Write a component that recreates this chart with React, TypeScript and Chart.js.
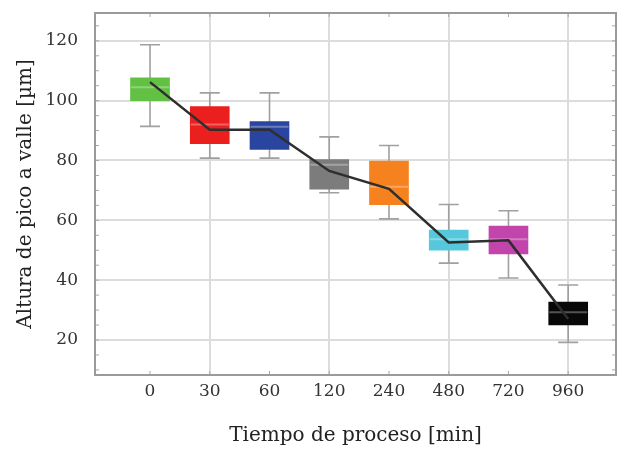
import React, { useEffect, useRef } from "react";
import { Chart, registerables } from "chart.js";

Chart.register(...registerables);

const categories = ["0", "30", "60", "120", "240", "480", "720", "960"];
const q1 = [100, 85.6, 83.7, 70.4, 65.2, 50, 48.8, 25];
const q3 = [107.6, 98, 93, 80.3, 79.8, 56.7, 58.1, 32.7];
const medians = [104.5, 92, 91.3, 78.6, 71.2, 53.7, 53.7, 29.3];
const whiskerLow = [91.4, 80.8, 80.8, 69.2, 60.5, 45.7, 40.7, 19.2];
const whiskerHigh = [118.7, 102.6, 102.6, 87.9, 85, 65.3, 63.2, 38.4];
const means = [106.2, 90.3, 90.3, 76.5, 70.5, 52.6, 53.3, 27];
const boxColors = ["#62c043", "#ec1f1f", "#2a459f", "#7c7c7c", "#f5821f", "#55c8dc", "#c145ab", "#080808"];
const yTicks = [20, 40, 60, 80, 100, 120];

const FONT = "DejaVu Serif";

const boxPlugin = {
  id: "boxExtras",
  beforeDatasetsDraw(chart: any) {
    const ctx = chart.ctx;
    const xs = chart.scales.x;
    const ys = chart.scales.y;
    ctx.save();
    ctx.strokeStyle = "#a0a0a0";
    ctx.lineWidth = 1.6;
    for (let i = 0; i < categories.length; i++) {
      const x = xs.getPixelForValue(i);
      const yl = ys.getPixelForValue(whiskerLow[i]);
      const yh = ys.getPixelForValue(whiskerHigh[i]);
      ctx.beginPath();
      ctx.moveTo(x, yl);
      ctx.lineTo(x, yh);
      ctx.moveTo(x - 10, yl);
      ctx.lineTo(x + 10, yl);
      ctx.moveTo(x - 10, yh);
      ctx.lineTo(x + 10, yh);
      ctx.stroke();
    }
    ctx.restore();
  },
  afterDatasetDraw(chart: any, args: any) {
    if (args.index !== 0) return;
    const ctx = chart.ctx;
    const xs = chart.scales.x;
    const ys = chart.scales.y;
    ctx.save();
    ctx.strokeStyle = "rgba(255,255,255,0.3)";
    ctx.lineWidth = 2;
    for (let i = 0; i < categories.length; i++) {
      const x = xs.getPixelForValue(i);
      const y = ys.getPixelForValue(medians[i]);
      ctx.beginPath();
      ctx.moveTo(x - 19, y);
      ctx.lineTo(x + 19, y);
      ctx.stroke();
    }
    ctx.restore();
  },
  afterDraw(chart: any) {
    const ctx = chart.ctx;
    const a = chart.chartArea;
    const xs = chart.scales.x;
    const ys = chart.scales.y;
    ctx.save();
    ctx.strokeStyle = "#a8a8a8";
    ctx.lineWidth = 1;
    for (let v = 10; v < 129; v += 5) {
      const y = ys.getPixelForValue(v);
      ctx.beginPath();
      ctx.moveTo(a.left, y);
      ctx.lineTo(a.left + 4, y);
      ctx.moveTo(a.right, y);
      ctx.lineTo(a.right - 4, y);
      ctx.stroke();
    }
    for (let i = 0; i < categories.length; i++) {
      const x = xs.getPixelForValue(i);
      ctx.beginPath();
      ctx.moveTo(x, a.top);
      ctx.lineTo(x, a.top + 4);
      ctx.moveTo(x, a.bottom);
      ctx.lineTo(x, a.bottom - 4);
      ctx.stroke();
    }
    ctx.strokeStyle = "#9a9a9a";
    ctx.lineWidth = 2;
    ctx.strokeRect(a.left, a.top, a.right - a.left, a.bottom - a.top);
    ctx.restore();
  },
};

export default function App() {
  const ref = useRef<HTMLCanvasElement>(null);
  useEffect(() => {
    if (!ref.current) return;
    const chart = new Chart(ref.current, {
      type: "bar",
      data: {
        datasets: [
          {
            type: "bar",
            data: categories.map((_, i) => ({ x: i, y: [q1[i], q3[i]] })) as any,
            backgroundColor: boxColors,
            borderWidth: 0,
            barThickness: 39,
            order: 2,
          },
          {
            type: "line",
            data: categories.map((_, i) => ({ x: i, y: means[i] })) as any,
            borderColor: "#2e2e2e",
            borderWidth: 2.5,
            pointRadius: 0,
            order: 1,
          } as any,
        ],
      },
      options: {
        animation: false,
        responsive: false,
        layout: { padding: { top: 13, right: 2, left: 0, bottom: 0 } },
        plugins: { legend: { display: false }, tooltip: { enabled: false } },
        scales: {
          x: {
            type: "linear",
            min: -0.921,
            max: 7.8,
            offset: false,
            afterFit: (s: any) => {
              s.height = 79;
              s.paddingLeft = 0;
              s.paddingRight = 0;
            },
            ticks: {
              stepSize: 1,
              includeBounds: false,
              padding: 6,
              color: "#333",
              font: { family: FONT, size: 17 },
              callback: (v: any) => categories[v] ?? "",
            },
            grid: {
              offset: false,
              drawTicks: false,
              lineWidth: 2,
              color: (c: any) => (c.tick && c.tick.value % 2 === 1 ? "#dcdcdc" : "rgba(0,0,0,0)"),
            },
            border: { display: false },
            title: {
              display: true,
              text: "Tiempo de proceso [min]",
              color: "#222",
              font: { family: FONT, size: 20 },
              padding: { top: 0, bottom: 6 },
            },
          },
          y: {
            type: "linear",
            min: 8.3,
            max: 129.3,
            afterFit: (s: any) => {
              s.width = 95;
              s.paddingTop = 0;
              s.paddingBottom = 0;
            },
            ticks: {
              stepSize: 20,
              includeBounds: false,
              padding: 17,
              color: "#333",
              font: { family: FONT, size: 17 },
              callback: (v: any) => (yTicks.includes(v) ? String(v) : ""),
            },
            grid: { drawTicks: false, lineWidth: 2, color: "#dcdcdc" },
            border: { display: false },
            title: {
              display: true,
              text: "Altura de pico a valle [µm]",
              color: "#222",
              font: { family: FONT, size: 20 },
              padding: { top: 14, bottom: 0 },
            },
          },
        },
      },
      plugins: [boxPlugin],
    } as any);
    return () => chart.destroy();
  }, []);
  return (
    <div style={{ position: "absolute", left: 0, top: 0, width: 618, height: 454, background: "#fff" }}>
      <canvas ref={ref} width={618} height={454} />
    </div>
  );
}
